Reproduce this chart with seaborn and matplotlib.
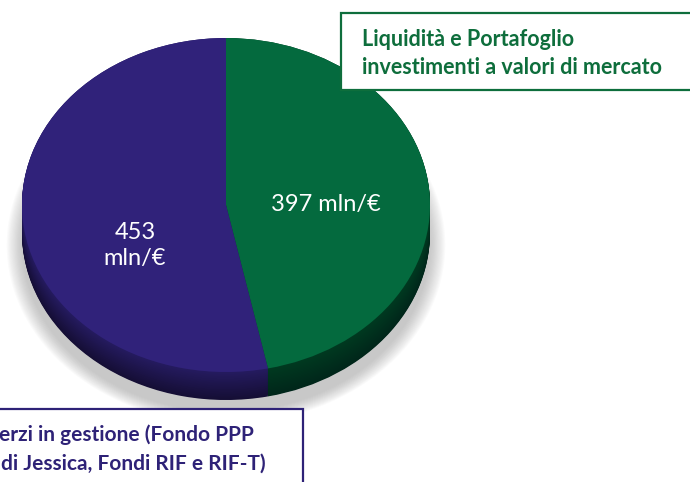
import numpy as np
import matplotlib
matplotlib.use("Agg")
import matplotlib.pyplot as plt
from matplotlib.patches import Ellipse, Rectangle
import seaborn as sns

# ---- data ----
categories = ["Liquidità e Portafoglio investimenti a valori di mercato",
              "Fondi di terzi in gestione"]
values = [397, 453]
value_labels = ["397 mln/€", "453\nmln/€"]
box_top_lines = ["Liquidità e Portafoglio", "investimenti a valori di mercato"]
box_bottom_lines = ["erzi in gestione (Fondo PPP", "di Jessica, Fondi RIF e RIF-T)"]

# ---- styles ----
top_colors = ["#046A3E", "#30227A"]
side_hi = ["#003A20", "#251B60"]
side_lo = ["#00261A", "#150E35"]
green_txt = "#0E6E3C"
blue_txt = "#2E2277"

sns.set_theme(style="white")
plt.rcParams['font.family'] = ['Lato', 'DejaVu Sans']

W, H = 690, 482
fig = plt.figure(figsize=(6.9, 4.82), dpi=100)
fig.patch.set_facecolor("white")

# pie geometry in pixels
cx, cy = 226, 205
rx, ry = 204, 167
depth = 28
d = depth / ry
xl = (-1.1, 1.1)
yl = (-1.35, 1.12)
left_px = cx + xl[0] * rx
bot_px = (H - cy) + yl[0] * ry
ax = fig.add_axes([left_px / W, bot_px / H, (xl[1] - xl[0]) * rx / W, (yl[1] - yl[0]) * ry / H])

# soft shadow
for i in range(14):
    g = i / 13
    ax.add_patch(Ellipse((0, -0.24), 2 * (1.0 + 0.075 * g), 2 * (1.0 + 0.07 * g),
                         facecolor="#808080", edgecolor="none", alpha=0.035, zorder=0))

def mix(c1, c2, t):
    a = np.array(matplotlib.colors.to_rgb(c1))
    b = np.array(matplotlib.colors.to_rgb(c2))
    return tuple(a * (1 - t) + b * t)

# side of the cylinder
N = 40
for k in range(N):
    t = k / (N - 1)
    off = d * (1 - t)
    cols = [mix(side_lo[j], side_hi[j], t) for j in range(2)]
    ax.pie(values, colors=cols, startangle=90, counterclock=False, radius=1,
           center=(0, -off), wedgeprops=dict(linewidth=0, antialiased=True))

# top face
ax.pie(values, colors=top_colors, startangle=90, counterclock=False, radius=1,
       center=(0, 0), wedgeprops=dict(linewidth=0))

ax.set_aspect('auto')
ax.set_xlim(*xl)
ax.set_ylim(*yl)
ax.axis('off')

ax.text(0.49, 0.0, value_labels[0], color="white", fontsize=17, ha="center", va="center")
ax.text(-0.446, -0.245, value_labels[1], color="white", fontsize=17, ha="center", va="center",
        linespacing=1.3)

# overlay in pixel coordinates for the label boxes
ov = fig.add_axes([0, 0, 1, 1])
ov.set_xlim(0, W)
ov.set_ylim(H, 0)
ov.axis('off')
ov.patch.set_alpha(0)

fs = 15.5
ov.add_patch(Rectangle((341, 13), 400, 77, facecolor="white", edgecolor=green_txt, linewidth=1.6))
ov.text(362, 39, box_top_lines[0], color=green_txt, fontsize=fs, fontweight="bold", va="center", ha="left")
ov.text(362, 68, box_top_lines[1], color=green_txt, fontsize=fs, fontweight="bold", va="center", ha="left")

fs2 = 15
ov.add_patch(Rectangle((-10, 409), 313, 100, facecolor="white", edgecolor=blue_txt, linewidth=1.6))
ov.text(-1, 435, box_bottom_lines[0], color=blue_txt, fontsize=fs2, fontweight="bold", va="center", ha="left")
ov.text(1, 464, box_bottom_lines[1], color=blue_txt, fontsize=fs2, fontweight="bold", va="center", ha="left")

fig.savefig("out.png", dpi=100, facecolor="white")
